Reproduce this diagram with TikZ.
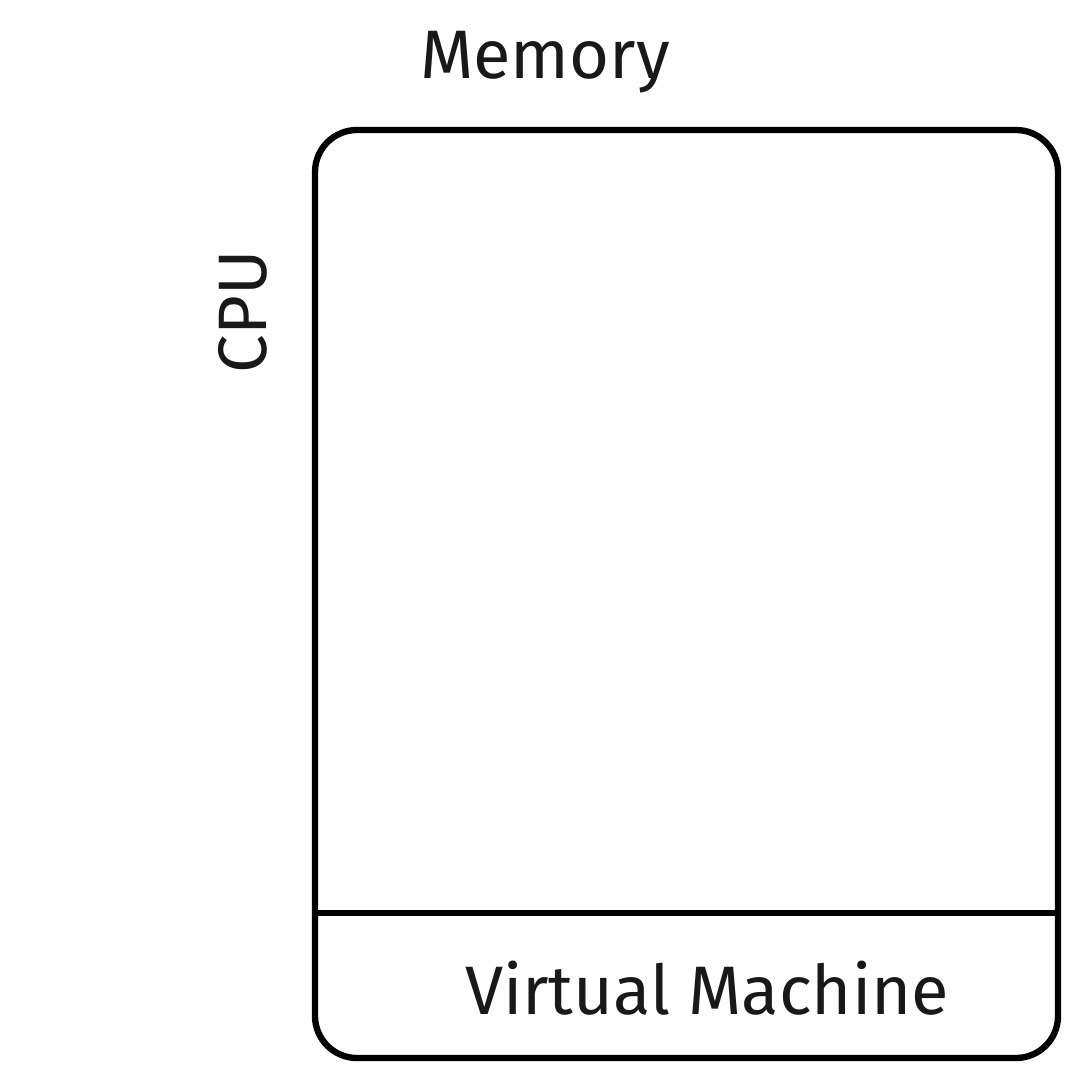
\documentclass[tikz,border=0pt]{standalone}
\usepackage{fontspec}
\setmainfont{Fira Sans}
\begin{document}
\begin{tikzpicture}[x=0.01cm, y=-0.01cm,
    box/.style={draw, line width=1.8pt, rounded corners=0.42cm},
    label/.style={font=\fontsize{19.5}{22}\selectfont, text=black!90}]
    % Canvas
    \useasboundingbox (0,0) rectangle (1080,1080);

    % Virtual machine outline
    \draw[box] (315,130) rectangle (1058,1058);
    \coordinate (divL) at (315,913);
    \coordinate (divR) at (1058,913);
    \draw[line width=1.8pt] (divL) -- (divR);

    % Labels
    \node[label] (memory) at (545,62) {Memory};
    \node[label, rotate=90] (cpu) at (243,312) {CPU};
    \node[label] (vm) at (707,988) {Virtual Machine};
\end{tikzpicture}
\end{document}
